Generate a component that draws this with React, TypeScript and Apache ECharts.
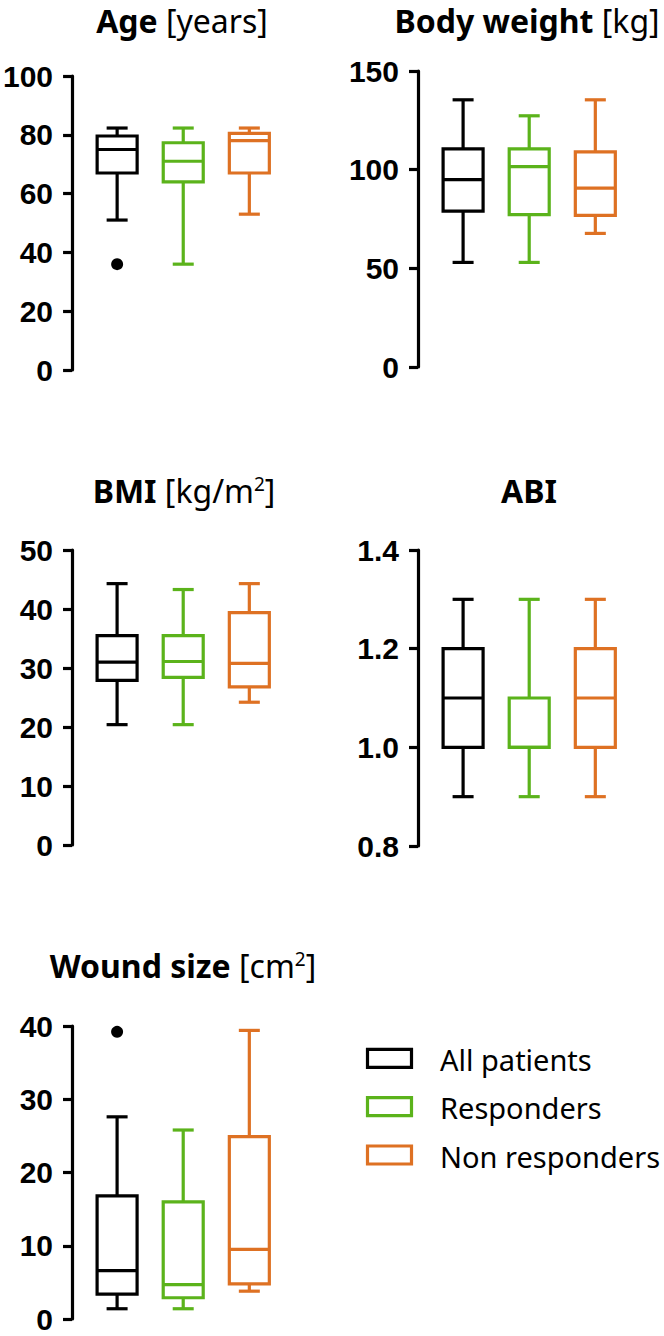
import React, { useEffect, useRef } from "react";
import * as echarts from "echarts";

const groups = ["All patients", "Responders", "Non responders"];
const groupColors = ["#000000", "#5BB31B", "#DE7123"];

// Each row: [min, Q1, median, Q3, max] for All patients, Responders, Non responders
const ageStats = [
  [51, 67, 75, 79.6, 82.3],
  [36, 64, 71, 77.3, 82.3],
  [53, 67, 78, 80.5, 82.3],
];
const ageOutliers = [[1, 36]];
const weightStats = [
  [53, 79, 95, 110.5, 135.4],
  [53, 77.2, 101.5, 110.5, 127.3],
  [67.7, 76.8, 90.6, 109, 135.4],
];
const weightOutliers: number[][] = [];
const bmiStats = [
  [20.4, 27.9, 31, 35.5, 44.3],
  [20.4, 28.4, 31.1, 35.5, 43.3],
  [24.2, 26.8, 30.8, 39.4, 44.3],
];
const bmiOutliers: number[][] = [];
const abiStats = [
  [0.9, 1.0, 1.1, 1.2, 1.3],
  [0.9, 1.0, 1.0, 1.1, 1.3],
  [0.9, 1.0, 1.1, 1.2, 1.3],
];
const abiOutliers: number[][] = [];
const woundStats = [
  [1.4, 3.4, 6.6, 16.8, 27.6],
  [1.4, 2.9, 4.7, 16.0, 25.8],
  [3.8, 4.8, 9.5, 24.9, 39.4],
];
const woundOutliers = [[1, 39.2]];

const ageTicks = { min: 0, max: 100, interval: 20 };
const weightTicks = { min: 0, max: 150, interval: 50 };
const bmiTicks = { min: 0, max: 50, interval: 10 };
const abiTicks = { min: 0.8, max: 1.4, interval: 0.2 };
const woundTicks = { min: 0, max: 40, interval: 10 };

const FONT = "'Noto Sans', sans-serif";
const TICK_FONT = "'Liberation Sans', Arial, sans-serif";

const panels = [
  { title: "{b|Age }{n|[years]}", stats: ageStats, outliers: ageOutliers, ticks: ageTicks, dec: 0, left: 72, top: 76, bottom: 370, tx: 182, ty: 20 },
  { title: "{b|Body weight }{n|[kg]}", stats: weightStats, outliers: weightOutliers, ticks: weightTicks, dec: 0, left: 418, top: 71, bottom: 367, tx: 527, ty: 20 },
  { title: "{b|BMI }{n|[kg/m}{s|2}{n|]}", stats: bmiStats, outliers: bmiOutliers, ticks: bmiTicks, dec: 0, left: 72, top: 550, bottom: 845, tx: 184, ty: 490 },
  { title: "{b|ABI}", stats: abiStats, outliers: abiOutliers, ticks: abiTicks, dec: 1, left: 418, top: 550, bottom: 846, tx: 529, ty: 490 },
  { title: "{b|Wound size }{n|[cm}{s|2}{n|]}", stats: woundStats, outliers: woundOutliers, ticks: woundTicks, dec: 0, left: 72, top: 1026, bottom: 1319, tx: 183, ty: 965 },
];

const renderBox = (params: any, api: any) => {
  const x = api.value(0);
  const ci = api.value(6);
  const color = groupColors[ci];
  const pMin = api.coord([x, api.value(1)]);
  const pQ1 = api.coord([x, api.value(2)]);
  const pMed = api.coord([x, api.value(3)]);
  const pQ3 = api.coord([x, api.value(4)]);
  const pMax = api.coord([x, api.value(5)]);
  const cx = pMin[0];
  const hw = 20;
  const cw = 10.5;
  const style = { stroke: color, lineWidth: 3.2, fill: "none" };
  return {
    type: "group",
    children: [
      { type: "line", shape: { x1: cx, y1: pMax[1], x2: cx, y2: pQ3[1] }, style },
      { type: "line", shape: { x1: cx, y1: pQ1[1], x2: cx, y2: pMin[1] }, style },
      { type: "line", shape: { x1: cx - cw, y1: pMax[1], x2: cx + cw, y2: pMax[1] }, style },
      { type: "line", shape: { x1: cx - cw, y1: pMin[1], x2: cx + cw, y2: pMin[1] }, style },
      { type: "rect", shape: { x: cx - hw, y: pQ3[1], width: 2 * hw, height: pQ1[1] - pQ3[1] }, style },
      { type: "line", shape: { x1: cx - hw, y1: pMed[1], x2: cx + hw, y2: pMed[1] }, style },
    ],
  };
};

export default function App() {
  const ref = useRef<HTMLDivElement>(null);
  useEffect(() => {
    if (!ref.current) return;
    const chart = echarts.init(ref.current, null, { renderer: "svg" });
    const grid: any[] = [];
    const xAxis: any[] = [];
    const yAxis: any[] = [];
    const series: any[] = [];
    const graphic: any[] = [];
    panels.forEach((p, i) => {
      grid.push({ left: p.left, top: p.top, width: 217, height: p.bottom - p.top });
      xAxis.push({ type: "value", gridIndex: i, min: 0.318, max: 3.6, show: false });
      yAxis.push({
        type: "value",
        gridIndex: i,
        min: p.ticks.min,
        max: p.ticks.max,
        interval: p.ticks.interval,
        splitLine: { show: false },
        axisLine: { show: true, lineStyle: { color: "#000", width: 3.2 } },
        axisTick: { show: true, length: 9, lineStyle: { color: "#000", width: 3.2 } },
        axisLabel: {
          margin: 19,
          color: "#000",
          fontSize: 30,
          lineHeight: 30,
          fontWeight: "bold",
          fontFamily: TICK_FONT,
          formatter: (v: number) => v.toFixed(p.dec),
        },
      });
      series.push({
        type: "custom",
        xAxisIndex: i,
        yAxisIndex: i,
        renderItem: renderBox,
        encode: { x: 0, y: [1, 2, 3, 4, 5] },
        data: p.stats.map((s, g) => [g + 1, ...s, g]),
        z: 3,
      });
      if (p.outliers.length) {
        series.push({
          type: "scatter",
          xAxisIndex: i,
          yAxisIndex: i,
          symbol: "circle",
          symbolSize: 12,
          itemStyle: { color: "#000", opacity: 1 },
          data: p.outliers,
          z: 4,
        });
      }
      graphic.push({
        type: "text",
        x: p.tx,
        y: p.ty,
        style: {
          text: p.title,
          align: "center",
          verticalAlign: "middle",
          fill: "#000",
          rich: {
            b: { fontSize: 32, fontWeight: "bold", fontFamily: FONT, fill: "#000" },
            n: { fontSize: 32, fontWeight: "normal", fontFamily: FONT, fill: "#000" },
            s: { fontSize: 19, fontWeight: "normal", fontFamily: FONT, fill: "#000", verticalAlign: "top" },
          },
        },
      });
    });
    groups.forEach((g, i) => {
      const cy = 1058.4 + i * 48.3;
      graphic.push({
        type: "rect",
        shape: { x: 367.5, y: cy - 9, width: 44, height: 18 },
        style: { stroke: groupColors[i], lineWidth: 3.2, fill: "none" },
      });
      graphic.push({
        type: "text",
        x: 440,
        y: cy + 1,
        style: { text: g, fontSize: 29, fontFamily: FONT, fill: "#000", verticalAlign: "middle", align: "left" },
      });
    });
    chart.setOption({
      animation: false,
      backgroundColor: "#fff",
      grid,
      xAxis,
      yAxis,
      series,
      graphic,
    });
    return () => chart.dispose();
  }, []);
  return <div ref={ref} style={{ position: "absolute", left: 0, top: 0, width: 664, height: 1336 }} />;
}
